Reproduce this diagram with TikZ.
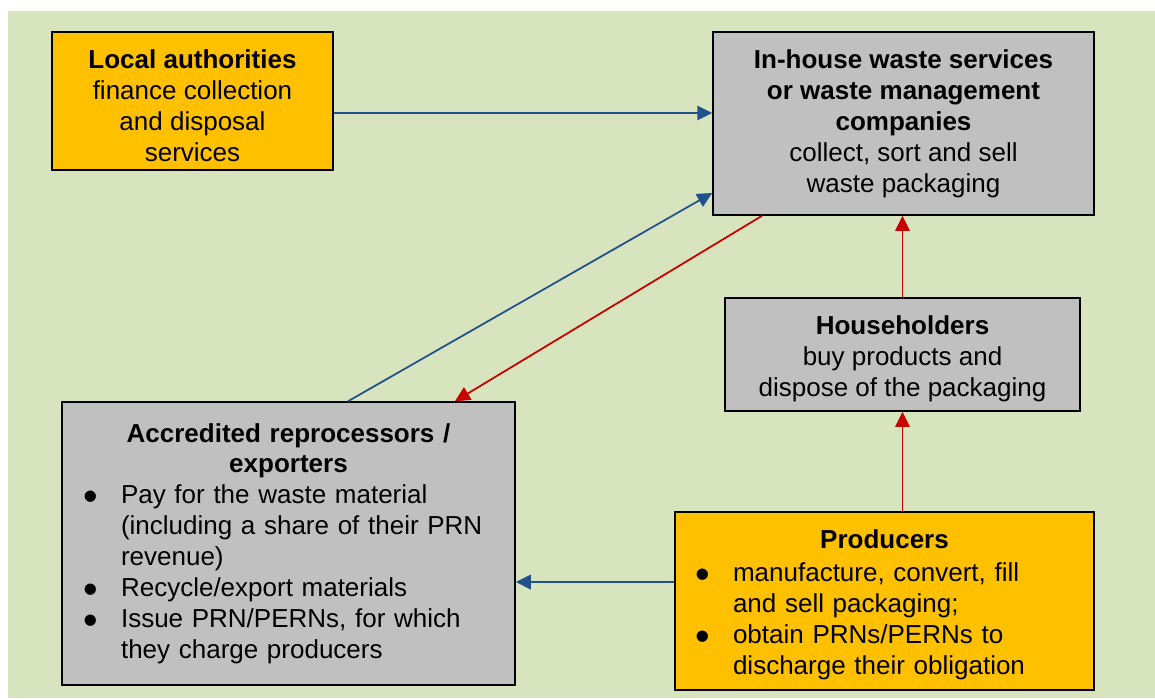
\documentclass[tikz,border=0pt]{standalone}
\usepackage{fontspec}
\usepackage{graphicx}
\setmainfont{Liberation Sans}
\usetikzlibrary{arrows.meta}
\definecolor{bggreen}{HTML}{D7E4BD}
\definecolor{goldfill}{HTML}{FFC000}
\definecolor{greyfill}{HTML}{C0C0C0}
\definecolor{flowblue}{HTML}{22508C}
\definecolor{flowred}{HTML}{C80000}
\newcommand\bitem{\par\noindent\hangindent=0.7cm\hangafter=1%
  \makebox[0.7cm][l]{\hspace{-0.05cm}\raisebox{-0.25em}{\scalebox{1.6}{\textbullet}}}}
\newcommand\nl{\hfil\break}
\begin{document}
\begin{tikzpicture}[x=0.02cm, y=-0.02cm,
  every node/.style={font=\fontsize{14.8}{17.6}\selectfont},
  flowbox/.style={draw=black, line width=0.9pt, align=center},
  bluearrow/.style={draw=flowblue, line width=1pt, -{Triangle[length=0.3cm,width=0.29cm]}},
  redarrow/.style={draw=flowred, line width=1pt, -{Triangle[length=0.3cm,width=0.29cm]}}]
  \useasboundingbox (0,0) rectangle (1155,698);
  \fill [white] (0,0) rectangle (1155,698);
  \fill [bggreen] (8,11) rectangle (1155,698);
  \node [flowbox, fill=goldfill, minimum width=5.62cm, minimum height=2.76cm]
   (la) at (192.5,101) {\rule{0pt}{16.5pt}\textbf{Local authorities}\\ finance collection\\ and disposal\\ services};
  \node [flowbox, fill=greyfill, minimum width=7.62cm, minimum height=3.66cm]
   (svc) at (903.5,123.5) {\textbf{In-house waste services}\\ \textbf{or waste management}\\
   \textbf{companies}\\ collect, sort and sell\\ waste packaging};
  \node [flowbox, fill=greyfill, minimum width=7.1cm, minimum height=2.26cm]
   (hh) at (902.5,354.5) {\rule{0pt}{15.3pt}\textbf{Householders}\\ buy products and\\ dispose of the packaging};
  \node [flowbox, fill=greyfill, minimum width=9.06cm, minimum height=5.66cm,
   text width=8.1cm, inner xsep=0.48cm, align=left] (rep) at (288.5,543.5)
   {{\centering\textbf{Accredited reprocessors /\\ exporters}\par}
   \bitem Pay for the waste material\nl (including a share of their PRN\nl revenue)
   \bitem Recycle/export materials
   \bitem Issue PRN/PERNs, for which\nl they charge producers\par};
  \node [flowbox, fill=goldfill, minimum width=8.38cm, minimum height=3.56cm,
   text width=7.46cm, inner xsep=0.46cm, align=left] (prod) at (884.5,601)
   {{\centering\rule{0pt}{15pt}\textbf{Producers}\par}\vspace{1.5pt}
   \bitem manufacture, convert, fill\nl and sell packaging;
   \bitem obtain PRNs/PERNs to\nl discharge their obligation\par};
  \draw [bluearrow] ([yshift=-0.24cm]la.east) -- ([yshift=-0.24cm]la.east -| svc.west);
  \draw [bluearrow] ([xshift=1.19cm]rep.north) -- ([yshift=-1.39cm]svc.west);
  \draw [redarrow] ([xshift=-2.83cm]svc.south) -- ([xshift=3.33cm]rep.north);
  \draw [redarrow] (hh.north) -- (hh.north |- svc.south);
  \draw [redarrow] (hh.south |- prod.north) -- (hh.south);
  \draw [bluearrow] ([yshift=0.38cm]prod.west) -- ([yshift=0.38cm]prod.west -| rep.east);
\end{tikzpicture}
\end{document}
